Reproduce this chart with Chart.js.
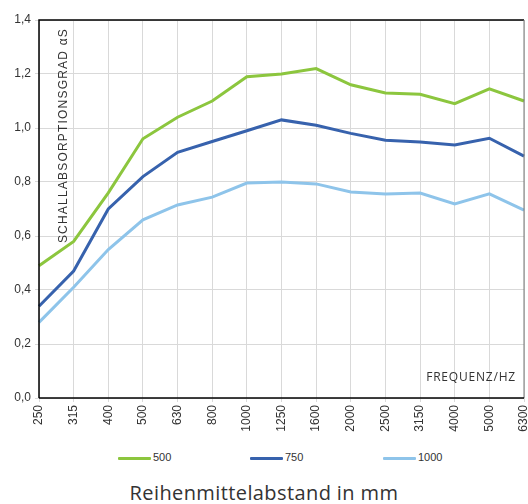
<!DOCTYPE html>
<html lang="de">
<head>
  <meta charset="utf-8"/>
  <title>Schallabsorptionsgrad</title>
  <script src="https://cdn.jsdelivr.net/npm/chart.js"></script>
  <style>
    body { margin: 0; background: #fff; width: 528px; height: 504px; position: relative; overflow: hidden; }
    #wrap { position: absolute; left: 0; top: 0; width: 528px; height: 440px; }
    .leg { position: absolute; top: 451px; font: 11px "Liberation Sans", Arial, sans-serif; color: #333; }
    .leg span.ln { display: inline-block; width: 33px; height: 3px; vertical-align: middle; margin-right: 2px; border-radius: 1px; }
    #title { position: absolute; top: 479px; left: 0; width: 528px; text-align: center; font: 20px "Open Sans", sans-serif; letter-spacing: 0.4px; color: #333; }
  </style>
</head>
<body>
  <div id="wrap"><canvas id="chart" width="528" height="440"></canvas></div>
  <div class="leg" style="left:118px"><span class="ln" style="background:#8cc63e"></span>500</div>
  <div class="leg" style="left:250px"><span class="ln" style="background:#3762ad"></span>750</div>
  <div class="leg" style="left:383px"><span class="ln" style="background:#8ec4ea"></span>1000</div>
  <div id="title">Reihenmittelabstand in mm</div>
  <script>
    const frequencies = ['250', '315', '400', '500', '630', '800', '1000', '1250', '1600', '2000', '2500', '3150', '4000', '5000', '6300'];
    const series500 = [0.49, 0.58, 0.76, 0.96, 1.04, 1.10, 1.19, 1.20, 1.22, 1.16, 1.13, 1.125, 1.09, 1.145, 1.10];
    const series750 = [0.34, 0.47, 0.70, 0.82, 0.91, 0.95, 0.99, 1.03, 1.01, 0.98, 0.955, 0.948, 0.937, 0.962, 0.896];
    const series1000 = [0.28, 0.41, 0.55, 0.66, 0.715, 0.744, 0.796, 0.80, 0.793, 0.763, 0.756, 0.759, 0.719, 0.756, 0.696];
    const yTicks = [0, 0.2, 0.4, 0.6, 0.8, 1.0, 1.2, 1.4];

    // axis captions drawn inside the plot area
    const captions = {
      id: 'captions',
      afterDraw(chart) {
        const { ctx, chartArea } = chart;
        ctx.save();
        ctx.fillStyle = '#333';
        ctx.font = '12px "Liberation Sans", Arial, sans-serif';
        ctx.letterSpacing = '1.2px';
        ctx.translate(chartArea.left + 25, chartArea.top + 8);
        ctx.rotate(-Math.PI / 2);
        ctx.textAlign = 'right';
        ctx.textBaseline = 'middle';
        ctx.fillText('SCHALLABSORPTIONSGRAD αS', 0, 0);
        ctx.restore();

        ctx.save();
        ctx.fillStyle = '#333';
        ctx.font = '12px "Open Sans", sans-serif';
        ctx.letterSpacing = '0.8px';
        ctx.textAlign = 'right';
        ctx.textBaseline = 'middle';
        ctx.fillText('FREQUENZ/HZ', chartArea.right - 8, chartArea.bottom - 20);
        ctx.restore();

        // plot frame
        ctx.save();
        ctx.strokeStyle = '#000';
        ctx.lineWidth = 1.5;
        ctx.beginPath();
        ctx.moveTo(chartArea.left, chartArea.bottom);
        ctx.lineTo(chartArea.left, chartArea.top);
        ctx.lineTo(chartArea.right, chartArea.top);
        ctx.stroke();
        ctx.strokeStyle = '#777';
        ctx.lineWidth = 1;
        ctx.beginPath();
        ctx.moveTo(chartArea.right, chartArea.top);
        ctx.lineTo(chartArea.right, chartArea.bottom);
        ctx.stroke();
        ctx.strokeStyle = '#000';
        ctx.lineWidth = 1.5;
        ctx.beginPath();
        ctx.moveTo(chartArea.left, chartArea.bottom);
        ctx.lineTo(chartArea.right, chartArea.bottom);
        ctx.stroke();
        ctx.restore();
      }
    };

    new Chart(document.getElementById('chart'), {
      type: 'line',
      data: {
        labels: frequencies,
        datasets: [
          { label: '500', data: series500, borderColor: '#8cc63e', backgroundColor: '#8cc63e' },
          { label: '750', data: series750, borderColor: '#3762ad', backgroundColor: '#3762ad' },
          { label: '1000', data: series1000, borderColor: '#8ec4ea', backgroundColor: '#8ec4ea' }
        ]
      },
      options: {
        responsive: false,
        animation: false,
        layout: { padding: { top: 20, right: 4, left: 0, bottom: 0 } },
        elements: {
          line: { borderWidth: 3, tension: 0 },
          point: { radius: 0 }
        },
        plugins: {
          legend: { display: false },
          tooltip: { enabled: false }
        },
        scales: {
          x: {
            grid: { color: '#d9d9d9', lineWidth: 1, tickLength: 4 },
            border: { display: false },
            ticks: {
              maxRotation: 90, minRotation: 90, autoSkip: false, padding: 3,
              color: '#333', font: { family: '"Liberation Sans", Arial, sans-serif', size: 12 }
            },
            afterFit(scale) { scale.height = 42; scale.paddingLeft = 0; scale.paddingRight = 0; }
          },
          y: {
            min: 0, max: 1.4,
            afterBuildTicks(scale) { scale.ticks = yTicks.map(v => ({ value: v })); },
            grid: { color: '#d9d9d9', lineWidth: 1, tickLength: 4 },
            border: { display: false },
            ticks: {
              padding: 4,
              color: '#333', font: { family: '"Liberation Sans", Arial, sans-serif', size: 12 },
              callback: v => v.toFixed(1).replace('.', ',')
            },
            afterFit(scale) { scale.width = 39; }
          }
        }
      },
      plugins: [captions]
    });
  </script>
</body>
</html>
